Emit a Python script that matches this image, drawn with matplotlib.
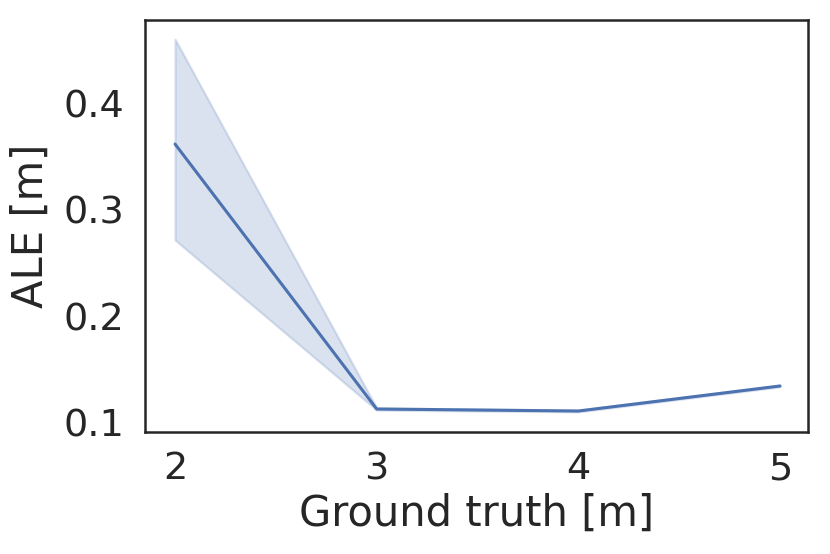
import matplotlib
matplotlib.use("Agg")
import matplotlib.pyplot as plt
import seaborn as sns

sns.set_theme(style="white")
plt.rcParams['font.family'] = ['DejaVu Sans']

ground_truth = [2, 3, 4, 5]
ale_mean = [0.3615, 0.1127, 0.1108, 0.1343]
ale_low = [0.2714, 0.1117, 0.1100, 0.1335]
ale_high = [0.4600, 0.1137, 0.1116, 0.1351]

fig = plt.figure(figsize=(4.15, 2.77), dpi=200)
ax = fig.add_axes([145/830, 1 - 432/554, (808-145)/830, (432-20)/554])
color = sns.color_palette()[0]
ax.fill_between(ground_truth, ale_low, ale_high, color=color, alpha=0.2, linewidth=0.8)
ax.plot(ground_truth, ale_mean, color=color, linewidth=1.1)
ax.set_xlim(1.851, 5.139)
ax.set_ylim(0.0911, 0.478)
ax.set_xticks([2, 3, 4, 5])
ax.set_yticks([0.1, 0.2, 0.3, 0.4])
ax.set_yticklabels(["0.1", "0.2", "0.3", "0.4"])
ax.tick_params(axis="both", labelsize=13.75, length=0)
ax.tick_params(axis="x", pad=7)
ax.tick_params(axis="y", pad=7.5)
ax.set_xlabel("Ground truth [m]", fontsize=15, labelpad=2)
ax.set_ylabel("ALE [m]", fontsize=15, labelpad=4)
for s in ax.spines.values():
    s.set_color("#262626")
    s.set_linewidth(0.9)
fig.savefig("out.png", dpi=200)
